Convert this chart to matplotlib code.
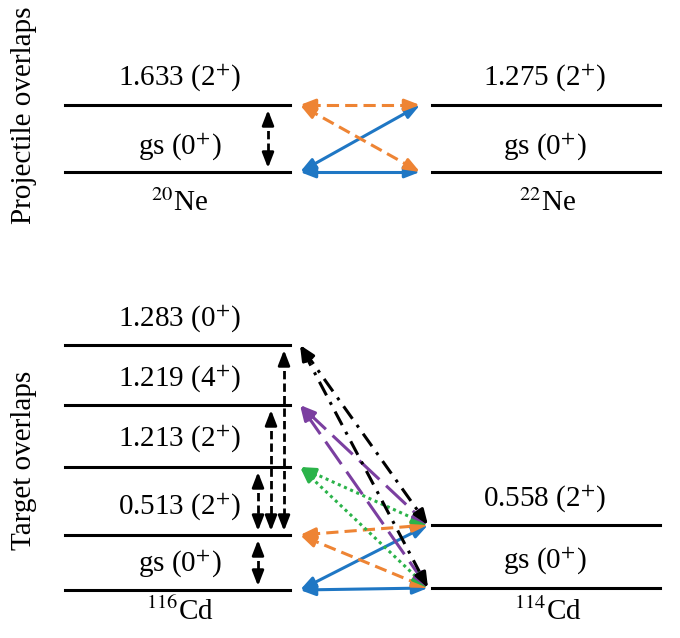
import matplotlib.pyplot as plt
import numpy as np

plt.rcParams['font.family'] = ['Liberation Serif', 'DejaVu Serif']
plt.rcParams['mathtext.fontset'] = 'stix'

# level schemes: (label, line y in pixels, label y in pixels)
ne20_levels = [("1.633 (2$^{+}$)", 105, 78), ("gs (0$^{+}$)", 172, 147)]
ne22_levels = [("1.275 (2$^{+}$)", 105, 78), ("gs (0$^{+}$)", 172, 147)]
cd116_levels = [("1.283 (0$^{+}$)", 345, 319), ("1.219 (4$^{+}$)", 405, 379),
                ("1.213 (2$^{+}$)", 467, 439), ("0.513 (2$^{+}$)", 535, 507),
                ("gs (0$^{+}$)", 590, 564)]
cd114_levels = [("0.558 (2$^{+}$)", 525, 499), ("gs (0$^{+}$)", 588, 561)]

BLUE, ORANGE, GREEN, PURPLE, BLACK = "#1f77c4", "#ee8434", "#2bb34a", "#7b3fa0", "black"

# cross couplings: (left y, right y, colour, linestyle)
proj_links = [(172, 172, BLUE, '-'), (172, 105, BLUE, '-'),
              (105, 105, ORANGE, (0, (4, 2))), (105, 172, ORANGE, (0, (4, 2)))]
targ_links = [(590, 588, BLUE, '-'), (590, 525, BLUE, '-'),
              (535, 525, ORANGE, (0, (4, 2))), (535, 588, ORANGE, (0, (4, 2))),
              (467, 525, GREEN, (0, (1, 1.2))), (467, 588, GREEN, (0, (1, 1.2))),
              (405, 525, PURPLE, (0, (9, 3))), (405, 588, PURPLE, (0, (9, 3))),
              (345, 525, BLACK, (0, (5, 2.5, 1, 2.5))), (345, 588, BLACK, (0, (5, 2.5, 1, 2.5)))]
# vertical reorientation / inelastic arrows: (x, y1, y2)
verticals = [(268, 110, 168), (258, 540, 586), (258, 472, 531), (271, 410, 531), (284, 350, 531)]


def double_arrow(ax, p1, p2, color, ls, lw=2.2):
    p1, p2 = np.array(p1, float), np.array(p2, float)
    d = (p2 - p1) / np.linalg.norm(p2 - p1)
    ax.plot([p1[0] + 8 * d[0], p2[0] - 8 * d[0]], [p1[1] + 8 * d[1], p2[1] - 8 * d[1]],
            color=color, ls=ls, lw=lw, solid_capstyle='butt')
    for a, b in ((p1 + 14 * d, p1), (p2 - 14 * d, p2)):
        ax.annotate("", xy=b, xytext=a,
                    arrowprops=dict(arrowstyle='-|>,head_length=0.9,head_width=0.35',
                                    color=color, lw=lw, shrinkA=0, shrinkB=0))


fig = plt.figure(figsize=(6.8, 6.38), dpi=100)
ax = fig.add_axes([0, 0, 1, 1])
ax.set_xlim(0, 680)
ax.set_ylim(638, 0)
ax.axis('off')

fs = 21
for levels, x0, x1, xc in ((ne20_levels, 65, 290, 180), (ne22_levels, 432, 660, 545),
                           (cd116_levels, 65, 290, 180), (cd114_levels, 432, 660, 545)):
    for label, y, ty in levels:
        ax.plot([x0, x1], [y, y], color='black', lw=2.2)
        ax.text(xc, ty, label, ha='center', va='center', fontsize=fs)

ax.text(180, 203, "$^{20}$Ne", ha='center', va='center', fontsize=fs)
ax.text(548, 203, "$^{22}$Ne", ha='center', va='center', fontsize=fs)
ax.text(180, 612, "$^{116}$Cd", ha='center', va='center', fontsize=fs)
ax.text(548, 612, "$^{114}$Cd", ha='center', va='center', fontsize=fs)
ax.text(24, 115, "Projectile overlaps", rotation=90, ha='center', va='center', fontsize=fs)
ax.text(24, 460, "Target overlaps", rotation=90, ha='center', va='center', fontsize=fs)

for yl, yr, c, ls in proj_links:
    double_arrow(ax, (300, yl), (420, yr), c, ls)
for yl, yr, c, ls in targ_links:
    double_arrow(ax, (300, yl), (428, yr), c, ls)
for x, y1, y2 in verticals:
    double_arrow(ax, (x, y1), (x, y2), 'black', (0, (3, 1.5)), lw=2)

fig.savefig("out.png", dpi=100)
